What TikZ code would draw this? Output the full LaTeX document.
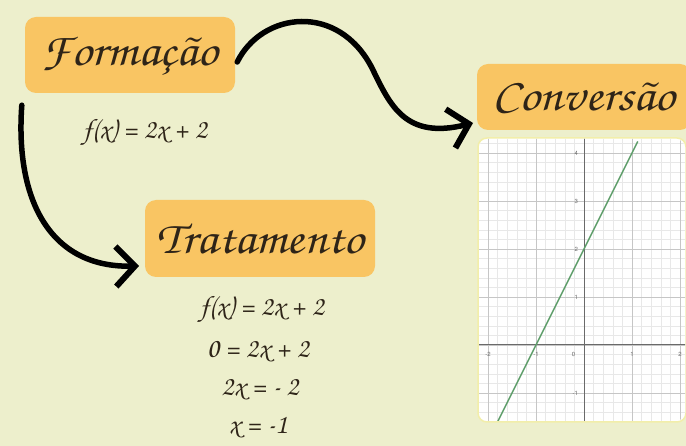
\documentclass[tikz,border=0pt]{standalone}
\usepackage[T1]{fontenc}
\usetikzlibrary{arrows.meta}
\definecolor{bg}{HTML}{EDEFCC}
\definecolor{boxc}{HTML}{F9C563}
\definecolor{ink}{HTML}{2E2418}
\definecolor{gminor}{HTML}{E8E8E8}
\definecolor{gmajor}{HTML}{C6C6C6}
\definecolor{gaxis}{HTML}{6A6A6A}
\definecolor{gline}{HTML}{5E9E6A}
\definecolor{panelb}{HTML}{F2EEAA}
\newcommand\scr{\fontencoding{T1}\fontfamily{pzc}\fontseries{mb}\fontshape{it}\selectfont}
\newcommand\lbl{\fontencoding{T1}\fontfamily{phv}\selectfont\fontsize{6}{7}\selectfont}
\tikzset{
  titlebox/.style={fill=boxc, rounded corners=11pt, inner sep=0pt, text=ink},
  eqn/.style={text=ink, inner sep=0pt, font=\scr\fontsize{28}{30}\selectfont},
  arr/.style={line width=5.5pt, line cap=round, draw=black,
    -{Straight Barb[length=19pt, width=40pt, line width=6pt]}},
  glabel/.style={text=gaxis, inner sep=0pt, font=\lbl}
}
\begin{document}
\begin{tikzpicture}[x=1pt,y=-1pt]
\fill[bg] (0,0) rectangle (686,446);
\useasboundingbox (0,0) rectangle (686,446);

% title boxes
\node[titlebox, minimum width=210pt, minimum height=76pt] (form) at (130,55)
  {\scalebox{1.1}[1]{\scr\fontsize{46}{50}\selectfont Forma\c{c}\~ao}};
\node[titlebox, minimum width=214pt, minimum height=66pt] (conv) at (584,97)
  {\scalebox{1.1}[1]{\scr\fontsize{46}{50}\selectfont Convers\~ao}};
\node[titlebox, minimum width=230pt, minimum height=77pt] (trat) at (260,238.5)
  {\scalebox{1.1}[1]{\scr\fontsize{46}{50}\selectfont Tratamento}};

% equations
\node[eqn] (eq0) at (145,133) {f(x) = 2x + 2};
\node[eqn] (eq1) at (262,310) {f(x) = 2x + 2};
\node[eqn] (eq2) at (258,352) {0 = 2x + 2};
\node[eqn] (eq3) at (260,390) {2x = - 2};
\node[eqn] (eq4) at (258,428) {x = -1};

% graph panel
\node[draw=panelb, line width=1.5pt, fill=white, rounded corners=9pt,
      minimum width=208pt, minimum height=284pt, inner sep=0pt] (panel) at (582,280) {};
\begin{scope}
  \clip[rounded corners=9pt] (479,139) rectangle (685,421);
  \begin{scope}[xshift=584pt, yshift=-345pt, x=48pt, y=48pt]
    \draw[gminor, line width=0.5pt, step=0.2] (-2.4,-1.8) grid (2.4,4.6);
    \draw[gmajor, line width=0.8pt, step=1] (-2.4,-1.8) grid (2.4,4.6);
    \draw[gaxis, line width=1pt] (-2.4,0) -- (2.4,0);
    \draw[gaxis, line width=1pt] (0,-1.8) -- (0,4.6);
    \foreach \v in {1,2,3,4} \node[glabel, anchor=east] at (-0.12,\v) {\v};
    \node[glabel, anchor=east] at (-0.12,-1) {-1};
    \node[glabel] at (-2,-0.2) {-2};
    \node[glabel] at (-1,-0.2) {-1};
    \node[glabel] at (-0.22,-0.2) {0};
    \node[glabel] at (1,-0.2) {1};
    \node[glabel] at (2,-0.2) {2};
    \draw[gline, line width=1.5pt] (-1.85,-1.7) -- (1.12,4.24);
  \end{scope}
\end{scope}

% connectors
\coordinate (e1) at (473,123);
\coordinate (e2) at (139,266);
\draw[arr] ([shift={(2,7)}]form.east) .. controls (262,12) and (338,2) .. (372,68)
  .. controls (390,105) and (405,140) .. (e1);
\draw[arr] ([shift={(-3,12)}]form.south west) .. controls (15,200) and (50,268) .. (e2);
\end{tikzpicture}
\end{document}
